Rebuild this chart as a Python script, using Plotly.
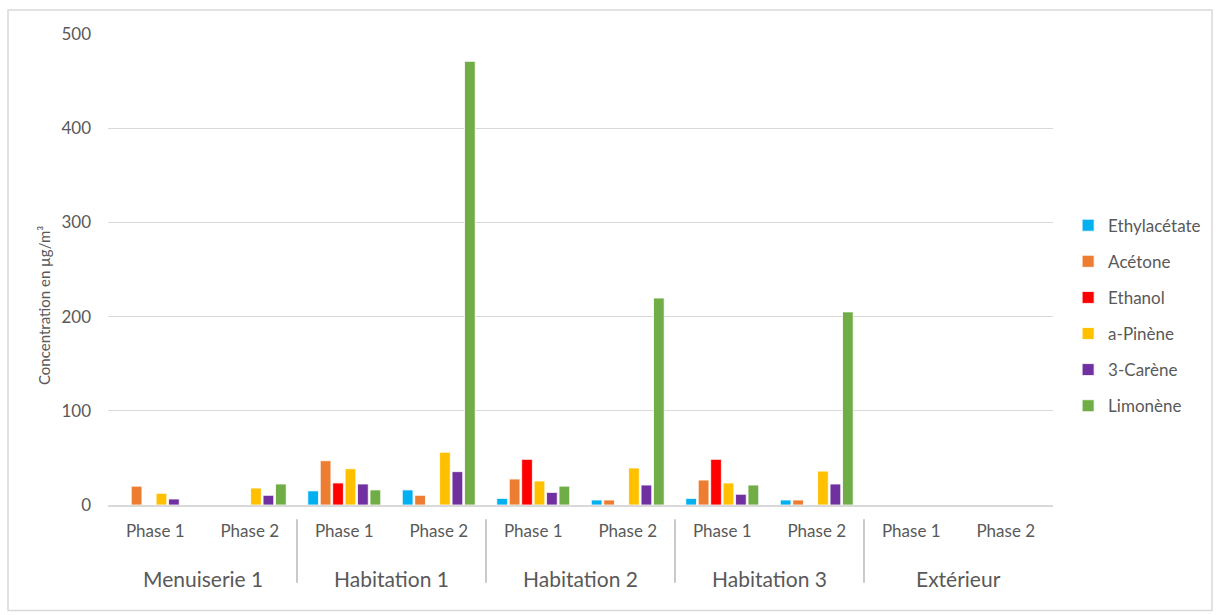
import plotly.graph_objects as go

# Sampling sites and phases
sites = ["Menuiserie 1", "Habitation 1", "Habitation 2", "Habitation 3", "Extérieur"]
phases = ["Phase 1", "Phase 2"]

# Concentrations (µg/m³), one value per site/phase, in order
ethylacetate = [0, 0, 15, 16, 7, 5.3, 7, 5.3, 0, 0]
acetone = [20, 0, 47, 10.3, 27.6, 5.3, 26.5, 5.3, 0, 0]
ethanol = [0, 0, 23.4, 0, 48.5, 0, 48.5, 0, 0, 0]
a_pinene = [12.4, 18, 38.5, 56, 25.5, 39.3, 23.4, 36, 0, 0]
carene_3 = [6.4, 10.3, 22.3, 35.4, 13.4, 21.2, 11.4, 22.3, 0, 0]
limonene = [0, 22.3, 16, 471, 20, 219.7, 21.2, 205, 0, 0]

series = [
    ("Ethylacétate", ethylacetate, "#00B0F0"),
    ("Acétone", acetone, "#ED7D31"),
    ("Ethanol", ethanol, "#FF0000"),
    ("a-Pinène", a_pinene, "#FFC000"),
    ("3-Carène", carene_3, "#7030A0"),
    ("Limonène", limonene, "#70AD47"),
]

n_cat = len(sites) * len(phases)
x_pos = list(range(n_cat))
tick_text = [p for _ in sites for p in phases]

FONT = "Lato, 'Open Sans', sans-serif"
GREY = "#595959"

fig = go.Figure()
for i, (name, vals, color) in enumerate(series):
    fig.add_trace(go.Bar(
        x=x_pos, y=vals, name=name, legendgroup=name,
        marker=dict(color=color, line=dict(color="white", width=0.8)),
    ))

# Group labels under the phase labels, and separators between groups
annotations = []
shapes = []
for g, site in enumerate(sites):
    annotations.append(dict(
        x=g * 2 + 0.5, y=-0.155, xref="x", yref="paper", text=site,
        showarrow=False, font=dict(size=21, color=GREY, family=FONT),
        xanchor="center", yanchor="middle",
    ))
    if g > 0:
        shapes.append(dict(
            type="line", xref="x", yref="paper", x0=g * 2 - 0.5, x1=g * 2 - 0.5,
            y0=-0.03, y1=-0.165, line=dict(color="#a6a6a6", width=1.2),
        ))

# Y axis title
annotations.append(dict(
    x=-0.0677, y=0.4225, xref="paper", yref="paper",
    text="Concentration en µg/m³", textangle=-90, showarrow=False,
    font=dict(size=15, color=GREY, family=FONT),
    xanchor="center", yanchor="middle",
))

# Chart border
shapes.append(dict(
    type="rect", xref="paper", yref="paper",
    x0=-0.1058, x1=1.1683, y0=-0.224, y1=1.0510,
    line=dict(color="#d9d9d9", width=1.5), fillcolor="rgba(0,0,0,0)", layer="below",
))

fig.update_layout(
    width=1221, height=615,
    margin=dict(l=108, r=168, t=34, b=110),
    paper_bgcolor="white", plot_bgcolor="white",
    barmode="group", bargap=0.21, bargroupgap=0.14,
    font=dict(family=FONT, color=GREY, size=14),
    showlegend=True,
    legend=dict(
        x=1.016, y=0.402, xanchor="left", yanchor="middle",
        font=dict(size=17, color=GREY, family=FONT),
        tracegroupgap=11, itemwidth=30, traceorder="grouped",
    ),
    xaxis=dict(
        range=[-0.5, n_cat - 0.5],
        tickmode="array", tickvals=x_pos, ticktext=tick_text,
        tickfont=dict(size=17, color=GREY, family=FONT),
        showgrid=False, zeroline=False,
        showline=True, linecolor="#d9d9d9", linewidth=1.5,
        ticks="", ticklabelstandoff=10,
    ),
    yaxis=dict(
        range=[0, 500], tickvals=[0, 100, 200, 300, 400, 500],
        tickfont=dict(size=17, color=GREY, family=FONT),
        showgrid=True, gridcolor="#d9d9d9", gridwidth=1.2,
        zeroline=False, showline=False, ticks="", ticklabelstandoff=16,
    ),
    annotations=annotations,
    shapes=shapes,
)

fig.write_html("out.html")
